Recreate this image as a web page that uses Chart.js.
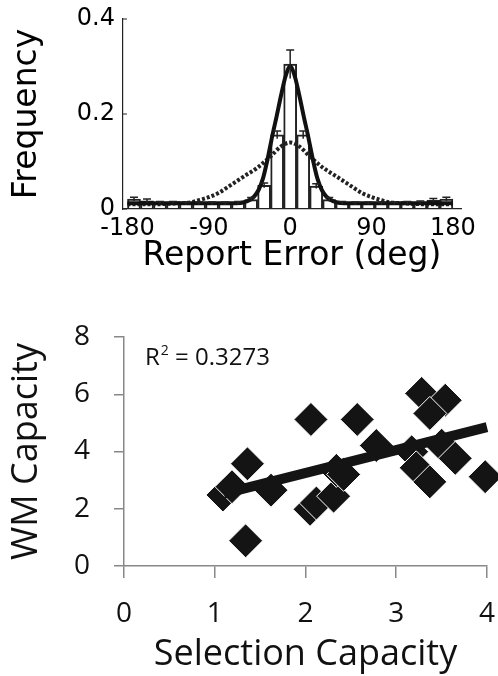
<!DOCTYPE html>
<html>
<head>
<meta charset="utf-8">
<script src="https://cdn.jsdelivr.net/npm/chart.js@4"></script>
<style>
    html, body { margin: 0; padding: 0; background: #fff; }
    body { width: 498px; height: 676px; position: relative; overflow: hidden; }
    .box { position: absolute; left: 0; width: 498px; }
    #topBox { top: 0; height: 290px; }
    #bottomBox { top: 300px; height: 376px; }
</style>
</head>
<body>
<div class="box" id="topBox"><canvas id="errorChart"></canvas></div>
<div class="box" id="bottomBox"><canvas id="capacityChart"></canvas></div>
<script>
// Histogram of report error (deg), 25 bins
const binCenters = [-172.8, -158.4, -144, -129.6, -115.2, -100.8, -86.4, -72, -57.6, -43.2, -28.8, -14.4, 0,
    14.4, 28.8, 43.2, 57.6, 72, 86.4, 100.8, 115.2, 129.6, 144, 158.4, 172.8];
const binFreq = [0.021, 0.017, 0.013, 0.013, 0.012, 0.012, 0.012, 0.012, 0.013, 0.020, 0.050, 0.156, 0.305,
    0.156, 0.048, 0.020, 0.013, 0.012, 0.012, 0.012, 0.012, 0.013, 0.014, 0.018, 0.021];
const binErr = [0.004, 0.004, 0.003, 0.003, 0.003, 0.003, 0.003, 0.003, 0.003, 0.004, 0.005, 0.008, 0.030,
    0.008, 0.005, 0.004, 0.003, 0.003, 0.003, 0.003, 0.003, 0.003, 0.003, 0.004, 0.004];

// mixture model fit (solid) and its wide component (dotted)
const fitDeg = [-180, -150, -120, -90, -70, -60, -50, -45, -40, -35, -30, -25, -20, -15, -10, -5, 0,
    5, 10, 15, 20, 25, 30, 35, 40, 45, 50, 60, 70, 90, 120, 150, 180];
const fitFreq = [0.012, 0.012, 0.012, 0.012, 0.012, 0.012, 0.015, 0.019, 0.026, 0.040, 0.065, 0.105, 0.152, 0.195, 0.240, 0.280, 0.300,
    0.280, 0.240, 0.195, 0.152, 0.105, 0.065, 0.040, 0.026, 0.019, 0.015, 0.012, 0.012, 0.012, 0.012, 0.012, 0.012];
const wideDeg = [-180, -150, -125, -110, -100, -90, -80, -70, -62, -50, -37, -22, -10, 0,
    10, 22, 37, 50, 62, 70, 80, 90, 100, 110, 125, 150, 180];
const wideFreq = [0.010, 0.010, 0.012, 0.014, 0.019, 0.025, 0.033, 0.045, 0.055, 0.070, 0.086, 0.110, 0.132, 0.140,
    0.132, 0.110, 0.086, 0.070, 0.055, 0.045, 0.033, 0.025, 0.019, 0.014, 0.012, 0.010, 0.010];
const errorTicks = [-180, -90, 0, 90, 180];

// Selection capacity vs WM capacity
const selCap = [1.09, 1.19, 1.36, 1.34, 1.62, 2.05, 2.12, 2.31, 2.34, 2.42, 2.06, 2.57, 2.78, 3.17, 3.22, 3.37,
    3.50, 3.65, 3.98, 3.28, 3.54, 3.37];
const wmCap = [2.48, 2.77, 3.57, 0.88, 2.65, 1.98, 2.20, 2.44, 3.34, 3.20, 5.12, 5.12, 4.21, 3.99, 3.43, 2.94,
    4.22, 3.76, 3.12, 6.03, 5.79, 5.33];
const trendX = [1.1, 4.0];
const trendY = [2.53, 4.85];
const rSquared = '0.3273';

document.addEventListener('DOMContentLoaded', () => {

    // error bars on top of the histogram
    const errorBarPlugin = {
        id: 'errorBars',
        afterDatasetsDraw(chart) {
            const {ctx, scales: {x, y}} = chart;
            ctx.save();
            ctx.strokeStyle = '#222';
            ctx.lineWidth = 1.5;
            binCenters.forEach((c, i) => {
                const px = x.getPixelForValue(c);
                const hi = y.getPixelForValue(binFreq[i] + binErr[i]);
                const lo = y.getPixelForValue(binFreq[i] - binErr[i]);
                ctx.beginPath();
                ctx.moveTo(px, lo);
                ctx.lineTo(px, hi);
                ctx.moveTo(px - 4, hi);
                ctx.lineTo(px + 4, hi);
                ctx.stroke();
            });
            // small inward ticks on the frequency axis
            ctx.lineWidth = 1;
            y.ticks.forEach(t => {
                const py = y.getPixelForValue(t.value);
                ctx.beginPath();
                ctx.moveTo(chart.chartArea.left, py);
                ctx.lineTo(chart.chartArea.left + 4, py);
                ctx.stroke();
            });
            ctx.restore();
        }
    };

    const errorCtx = document.getElementById('errorChart').getContext('2d');
    new Chart(errorCtx, {
        type: 'bar',
        data: {
            datasets: [
                {
                    type: 'line',
                    data: fitDeg.map((d, i) => ({x: d, y: fitFreq[i]})),
                    borderColor: '#111',
                    borderWidth: 4,
                    pointRadius: 0,
                    cubicInterpolationMode: 'monotone',
                },
                {
                    type: 'line',
                    data: wideDeg.map((d, i) => ({x: d, y: wideFreq[i]})),
                    borderColor: '#222',
                    borderWidth: 4,
                    borderDash: [3, 2],
                    pointRadius: 0,
                    cubicInterpolationMode: 'monotone',
                },
                {
                    data: binCenters.map((c, i) => ({x: c, y: binFreq[i]})),
                    backgroundColor: 'rgba(255,255,255,0)',
                    borderColor: '#222',
                    borderWidth: 1.3,
                    barPercentage: 1,
                    categoryPercentage: 1,
                }
            ]
        },
        options: {
            responsive: true,
            maintainAspectRatio: false,
            animation: false,
            layout: { autoPadding: false, padding: { left: 0, right: 37, top: 19, bottom: 17.5 } },
            plugins: { legend: { display: false }, tooltip: { enabled: false } },
            scales: {
                x: {
                    type: 'linear',
                    min: -185,
                    max: 189,
                    offset: false,
                    afterBuildTicks: scale => { scale.ticks = errorTicks.map(v => ({value: v})); },
                    grid: { display: false, drawTicks: false },
                    border: { display: true, color: '#222', width: 1.2 },
                    ticks: {
                        padding: 7.5,
                        maxRotation: 0,
                        autoSkip: false,
                        color: '#000',
                        font: { family: 'DejaVu Sans', size: 24, lineHeight: 1.0 }
                    },
                    title: {
                        display: true,
                        text: 'Report Error (deg)',
                        color: '#000',
                        padding: { top: -8.5, bottom: 0 },
                        font: { family: 'DejaVu Sans', size: 33, lineHeight: 1.0 }
                    }
                },
                y: {
                    min: 0,
                    max: 0.4,
                    ticks: {
                        stepSize: 0.2,
                        padding: 8,
                        color: '#000',
                        font: { family: 'DejaVu Sans', size: 24, lineHeight: 0.9 }
                    },
                    grid: { display: false, drawTicks: false },
                    border: { display: true, color: '#222', width: 1.2 },
                    title: {
                        display: true,
                        text: 'Frequency',
                        color: '#000',
                        padding: { top: 10.5, bottom: 25.3 },
                        font: { family: 'DejaVu Sans', size: 33, lineHeight: 1.0 }
                    }
                }
            }
        },
        plugins: [errorBarPlugin]
    });

    // R squared label in the scatter plot
    const rSquaredPlugin = {
        id: 'rSquared',
        afterDraw(chart) {
            const {ctx, chartArea} = chart;
            const x0 = chartArea.left + 21;
            const base = chartArea.top + 28;
            ctx.save();
            ctx.fillStyle = '#111';
            ctx.textBaseline = 'alphabetic';
            ctx.font = '24px "Open Sans"';
            ctx.fillText('R', x0, base);
            let x1 = x0 + ctx.measureText('R').width;
            ctx.font = '14px "Open Sans"';
            ctx.fillText('2', x1 + 1, base - 10);
            x1 += ctx.measureText('2').width + 1;
            ctx.font = '24px "Open Sans"';
            ctx.fillText(' = ' + rSquared, x1, base);
            ctx.restore();
        }
    };

    const capCtx = document.getElementById('capacityChart').getContext('2d');
    new Chart(capCtx, {
        type: 'scatter',
        data: {
            datasets: [
                {
                    type: 'line',
                    data: trendX.map((v, i) => ({x: v, y: trendY[i]})),
                    borderColor: '#141414',
                    borderWidth: 10,
                    pointRadius: 0,
                    borderCapStyle: 'butt',
                    clip: false,
                },
                {
                    data: selCap.map((v, i) => ({x: v, y: wmCap[i]})),
                    pointStyle: 'rectRot',
                    pointRadius: 17,
                    backgroundColor: '#141414',
                    borderColor: '#fff',
                    borderWidth: 1,
                    clip: false,
                }
            ]
        },
        options: {
            responsive: true,
            maintainAspectRatio: false,
            animation: false,
            layout: { autoPadding: false, padding: { left: 0, right: 11, top: 37, bottom: 0 } },
            plugins: { legend: { display: false }, tooltip: { enabled: false } },
            scales: {
                x: {
                    type: 'linear',
                    min: 0,
                    max: 4,
                    ticks: {
                        stepSize: 1,
                        padding: 3,
                        color: '#111',
                        font: { family: 'Open Sans', size: 28, lineHeight: 2.357 }
                    },
                    grid: { display: true, drawOnChartArea: false, drawTicks: true, tickLength: 12, color: '#888', lineWidth: 1.5 },
                    border: { display: true, color: '#888', width: 1.5 },
                    title: {
                        display: true,
                        text: 'Selection Capacity',
                        color: '#111',
                        padding: { top: -17.2, bottom: 0 },
                        font: { family: 'Open Sans', size: 36, lineHeight: 1.2 }
                    }
                },
                y: {
                    min: 0,
                    max: 8,
                    ticks: {
                        stepSize: 2,
                        padding: 24,
                        color: '#111',
                        font: { family: 'Open Sans', size: 28, lineHeight: 0.9 }
                    },
                    grid: { display: true, drawOnChartArea: false, drawTicks: true, tickLength: 10, color: '#888', lineWidth: 1.5 },
                    border: { display: true, color: '#888', width: 1.5 },
                    title: {
                        display: true,
                        text: 'WM Capacity',
                        color: '#111',
                        padding: { top: 5.4, bottom: 1.4 },
                        font: { family: 'Open Sans', size: 36, lineHeight: 1.2 }
                    }
                }
            }
        },
        plugins: [rSquaredPlugin]
    });
});
</script>
</body>
</html>
